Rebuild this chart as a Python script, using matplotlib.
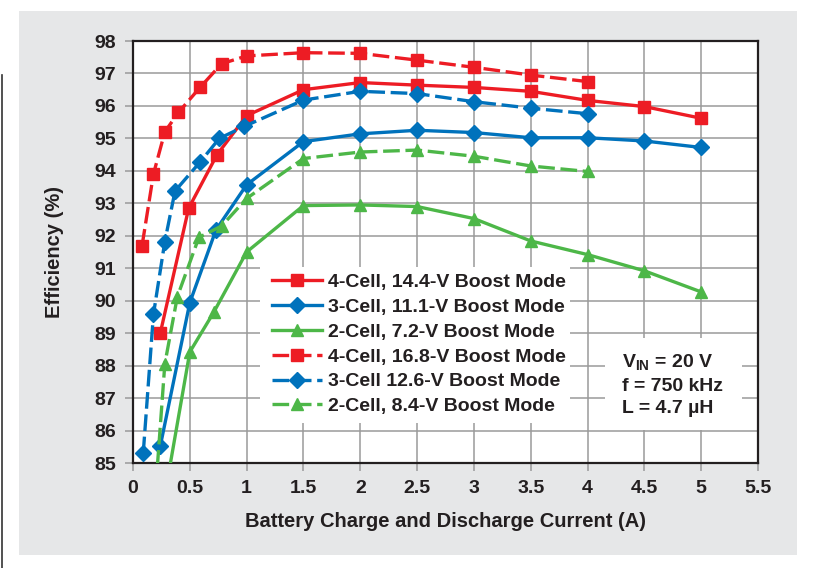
import matplotlib.pyplot as plt
from matplotlib.patches import Rectangle
from matplotlib.lines import Line2D

plt.rcParams['font.family'] = ['Liberation Sans', 'DejaVu Sans']
plt.rcParams['font.weight'] = 'bold'
plt.rcParams['mathtext.fontset'] = 'custom'
plt.rcParams['mathtext.rm'] = 'Liberation Sans:bold'
plt.rcParams['mathtext.bf'] = 'Liberation Sans:bold'

# battery current (A) and efficiency (%) per configuration
i_144 = [0.24, 0.49, 0.74, 1.0, 1.5, 2.0, 2.5, 3.0, 3.5, 4.0, 4.5, 5.0]
eff_144 = [89.0, 92.85, 94.5, 95.7, 96.5, 96.72, 96.64, 96.57, 96.45, 96.17, 95.98, 95.62]

i_111 = [0.24, 0.5, 0.73, 1.0, 1.5, 2.0, 2.5, 3.0, 3.5, 4.0, 4.5, 5.0]
eff_111 = [85.52, 89.94, 92.18, 93.57, 94.9, 95.14, 95.25, 95.18, 95.02, 95.02, 94.92, 94.72]

i_72 = [0.25, 0.5, 0.71, 1.0, 1.5, 2.0, 2.5, 3.0, 3.5, 4.0, 4.5, 5.0]
eff_72 = [83.4, 88.42, 89.64, 91.5, 92.93, 92.95, 92.9, 92.53, 91.84, 91.42, 90.92, 90.27]

i_168 = [0.08, 0.18, 0.28, 0.4, 0.59, 0.78, 1.0, 1.5, 2.0, 2.5, 3.0, 3.5, 4.0]
eff_168 = [91.7, 93.9, 95.2, 95.8, 96.57, 97.3, 97.54, 97.64, 97.62, 97.41, 97.19, 96.95, 96.75]

i_126 = [0.09, 0.18, 0.28, 0.37, 0.59, 0.76, 0.98, 1.5, 2.0, 2.5, 3.0, 3.5, 4.0]
eff_126 = [85.3, 89.58, 91.82, 93.38, 94.27, 95.0, 95.37, 96.18, 96.45, 96.38, 96.13, 95.93, 95.76]

i_84 = [0.2, 0.28, 0.39, 0.58, 0.78, 1.0, 1.5, 2.0, 2.5, 3.0, 3.5, 4.0]
eff_84 = [84.2, 88.05, 90.12, 91.95, 92.3, 93.15, 94.38, 94.58, 94.64, 94.45, 94.15, 93.98]

RED = '#ED1C24'
BLUE = '#0072BC'
GREEN = '#4DB748'
INK = '#231F20'
GRID = '#9A9A9A'

series = [
    (i_144, eff_144, RED, 's', '-', '4-Cell, 14.4-V Boost Mode'),
    (i_111, eff_111, BLUE, 'D', '-', '3-Cell, 11.1-V Boost Mode'),
    (i_72, eff_72, GREEN, '^', '-', '2-Cell, 7.2-V Boost Mode'),
    (i_168, eff_168, RED, 's', '--', '4-Cell, 16.8-V Boost Mode'),
    (i_126, eff_126, BLUE, 'D', '--', '3-Cell 12.6-V Boost Mode'),
    (i_84, eff_84, GREEN, '^', '--', '2-Cell, 8.4-V Boost Mode'),
]
marker_sizes = {'s': 8.5, 'D': 8.5, '^': 9}

fig = plt.figure(figsize=(8.15, 5.68), dpi=100)
fig.patches.append(Rectangle((19 / 815, 1 - 555 / 568), 778 / 815, 544 / 568,
                             transform=fig.transFigure, facecolor='#E6E7E8',
                             edgecolor='none', zorder=-5))
fig.lines.append(Line2D([1.5 / 815, 1.5 / 815], [0, 1 - 75 / 568],
                        transform=fig.transFigure, color='#333333', lw=1.2,
                        zorder=-5))

ax = fig.add_axes([133 / 815, 1 - 463 / 568, 625 / 815, 422 / 568])
ax.set_facecolor('white')
ax.set_axisbelow(True)

for x, y, color, mk, ls, label in series:
    line, = ax.plot(x, y, color=color, lw=2.4, ls=ls, marker=mk,
                    ms=marker_sizes[mk], mec=color, mfc=color, label=label,
                    zorder=3)
    if ls == '--':
        line.set_dashes((5, 1.7))

ax.set_xlim(0, 5.5)
ax.set_ylim(85, 98)
ax.set_xticks([0, 0.5, 1, 1.5, 2, 2.5, 3, 3.5, 4, 4.5, 5, 5.5])
ax.set_xticklabels(['0', '0.5', '1', '1.5', '2', '2.5', '3', '3.5', '4', '4.5', '5', '5.5'])
ax.set_yticks(range(85, 99))
ax.grid(True, color=GRID, lw=1.1)
ax.tick_params(axis='both', direction='out', length=6, width=1.1, color=GRID,
               labelsize=14, labelcolor=INK)
ax.tick_params(axis='y', pad=6)
ax.tick_params(axis='x', pad=6)
for lab in ax.get_xticklabels() + ax.get_yticklabels():
    lab.set_fontweight('bold')
for sp in ax.spines.values():
    sp.set_color(INK)
    sp.set_linewidth(1.6)

ax.set_xlabel('Battery Charge and Discharge Current (A)', fontsize=14.5,
              fontweight='bold', color=INK, labelpad=11)
ax.set_ylabel('Efficiency (%)', fontsize=14.5, fontweight='bold', color=INK,
              labelpad=22)

# white panels behind the legend and the operating conditions
ax.add_patch(Rectangle((0.203, 0.095), 0.496, 0.37, transform=ax.transAxes,
                       facecolor='white', edgecolor='none', zorder=1))
ax.add_patch(Rectangle((0.755, 0.078), 0.219, 0.218, transform=ax.transAxes,
                       facecolor='white', edgecolor='none', zorder=1))

leg = ax.legend(loc='upper left', bbox_to_anchor=(0.222, 0.449), frameon=False,
                borderpad=0, borderaxespad=0, handlelength=2.6,
                handletextpad=0.3, labelspacing=0.37,
                prop={'family': 'Liberation Sans', 'weight': 'bold', 'size': 14})
for t in leg.get_texts():
    t.set_color(INK)

cond = [r'V$_{\mathrm{IN}}$ = 20 V', 'f = 750 kHz', 'L = 4.7 µH']
for txt, yb in zip(cond, [0.227, 0.171, 0.118]):
    ax.text(0.782, yb, txt, transform=ax.transAxes, fontsize=14,
            fontweight='bold', color=INK, va='baseline', ha='left', zorder=4)

fig.savefig('out.png', dpi=100, facecolor='white')
